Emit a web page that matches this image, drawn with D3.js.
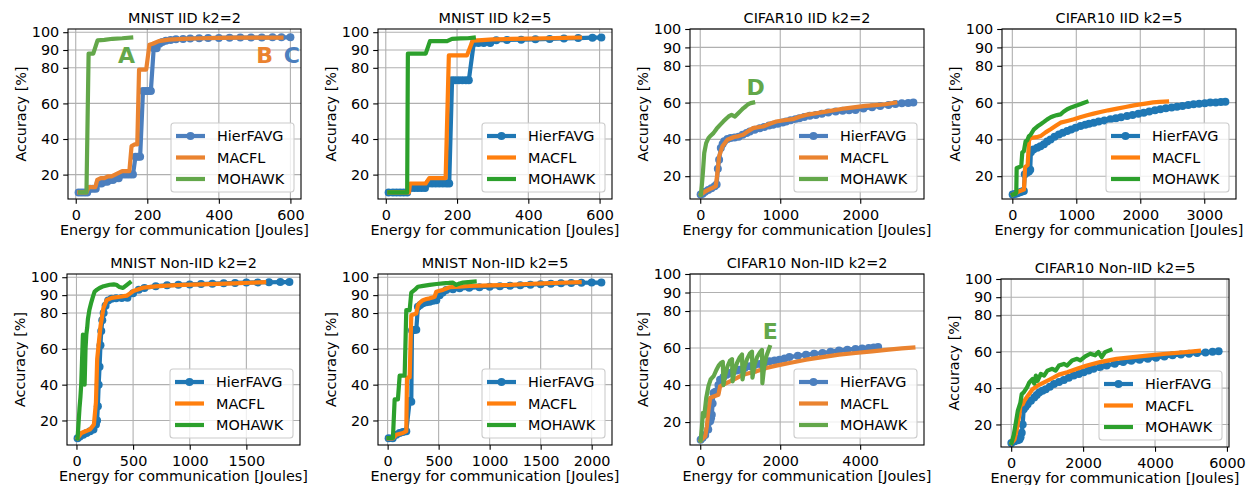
<!DOCTYPE html>
<html>
<head>
<meta charset="utf-8">
<script src="https://cdn.jsdelivr.net/npm/d3@7"></script>
<style>
  body { margin: 0; background: #fff; }
  text { font-family: "DejaVu Sans", sans-serif; fill: #000; }
</style>
</head>
<body>
<script>
// ---- data (energy [J], accuracy [%]) ----
const methods = ["HierFAVG", "MACFL", "MOHAWK"];
const yTicks = [20, 40, 60, 80, 90, 100];

// MNIST IID k2=2
const p1Hier = [[8,10],[16,10],[24,10],[32,10],[40,12],[48,12],[56,12],[64,15],[72,15],[80,16],[88,16],[96,17],[104,17],[112,18],[120,18],[128,20],[136,20],[144,20],[152,20],[160,20],[167,30],[174,30],[180,30],[188,67],[196,67],[203,67],[210,67],[218,91],[226,91],[234,93.5],[242,94.5],[252,95.2],[265,95.6],[280,96],[300,96.2],[320,96.4],[345,96.6],[370,96.7],[400,96.8],[430,96.9],[460,97],[490,97],[520,97],[550,97.1],[575,97.1],[600,97.1]];
const p1Macfl = [[10,10],[22,10],[30,10],[36,13],[46,13],[55,13],[60,17],[70,18],[80,18],[90,19],[100,19],[110,20],[120,21],[130,22],[140,22],[150,22],[156,36],[165,37],[172,37],[177,79],[188,79],[197,79],[206,93],[215,93.5],[232,95],[260,95.8],[300,96.3],[350,96.6],[400,96.8],[450,96.9],[500,97],[545,97],[575,97]];
const p1Mohawk = [[12,10],[22,10],[30,10],[36,88],[42,88],[49,88],[61,95.4],[80,95.7],[103,96.3],[130,96.6],[155,97]];

// MNIST IID k2=5
const p2Hier = [[8,10],[20,10],[30,10],[40,10],[50,10],[60,10],[70,12.5],[80,12.5],[90,12.5],[100,12.5],[110,12.5],[120,15],[130,15],[140,15],[150,15],[160,15],[170,15],[178,15],[186,73],[195,73],[205,73],[215,73],[225,73],[233,73],[247,94],[260,94],[275,94],[293,94],[310,95.5],[340,95.6],[380,95.8],[420,96],[460,96.2],[500,96.5],[540,96.7],[580,96.9],[605,97]];
const p2Macfl = [[10,10],[30,10],[50,10],[65,10],[68,15],[90,15],[112,15],[122,18],[140,18],[168,18],[177,87],[200,87],[228,87],[244,95.3],[270,95.6],[300,96],[350,96.2],[400,96.4],[450,96.6],[500,96.8],[545,97]];
const p2Mohawk = [[10,10],[30,10],[50,10],[60,10],[62,88],[80,88],[100,88],[112,88],[124,95],[140,95],[160,95],[172,95],[186,96.3],[210,96.5],[230,96.6],[247,97]];

// CIFAR10 IID k2=2
const p3Hier = [[5,10],[30,10.5],[60,11.5],[100,12.5],[140,13.5],[180,14.5],[205,15.5],[220,24],[236,29],[257,35.3],[280,37.5],[300,39],[340,40.2],[380,40.7],[430,41],[480,41.5],[530,42.5],[580,43.5],[620,44.3],[680,45.3],[744,46.1],[800,46.8],[860,47.5],[910,47.9],[970,48.5],[1030,49.2],[1074,49.7],[1130,50.4],[1190,51],[1239,51.5],[1300,52.2],[1370,52.8],[1445,53.3],[1520,54],[1600,54.6],[1693,55.1],[1780,55.5],[1860,55.8],[1941,56],[2040,56.8],[2148,57.5],[2250,58.2],[2354,58.7],[2440,59.2],[2520,59.6],[2600,59.8],[2664,60]];
const p3Macfl = [[8,10],[40,11],[70,11.9],[110,12.8],[153,13.7],[194,14.6],[215,21.8],[236,30.8],[277,36.2],[339,39.8],[421,41.3],[480,41.8],[537,42.5],[600,44.5],[661,46.1],[720,46.6],[785,47],[870,48.5],[950,49.7],[1050,50.4],[1156,51],[1240,52.3],[1321,53.3],[1450,54.2],[1569,55.1],[1690,56],[1817,56.9],[1940,57.5],[2065,58.2],[2190,58.6],[2313,59.1],[2437,60]];
const p3Mohawk = [[8,10],[20,15],[33,21.8],[50,32.6],[74,38],[103,40.7],[130,42],[165,43.4],[205,45.8],[248,47.9],[290,49.8],[330,51.5],[360,52.6],[392,53.3],[434,52.4],[475,54.2],[505,55.5],[537,56.9],[570,58],[599,59.1],[630,59.7],[661,60]];

// CIFAR10 IID k2=5
const p4Hier = [[5,10],[40,10.3],[80,10.7],[120,11.3],[150,11.7],[180,12],[195,21],[230,22],[260,22.5],[280,23.5],[290,33],[330,34.5],[390,35.5],[440,36.3],[494,37.3],[545,38.8],[598,40],[660,41.5],[728,42.7],[790,43.6],[858,44.5],[920,45.4],[990,46.3],[1066,47.3],[1140,48],[1200,48.5],[1274,49.1],[1350,49.7],[1440,50.3],[1534,50.9],[1620,51.5],[1700,52.1],[1794,52.7],[1880,53.3],[1970,53.9],[2054,54.5],[2140,55.1],[2230,55.8],[2314,56.4],[2400,56.9],[2490,57.3],[2574,57.8],[2660,58.2],[2750,58.7],[2834,59.1],[2920,59.4],[3010,59.7],[3094,60],[3180,60.1],[3260,60.3],[3330,60.4]];
const p4Macfl = [[10,10],[60,11],[120,12],[182,12.7],[200,25],[240,26],[262,40],[300,40.8],[380,41.2],[442,41.8],[520,43.8],[598,45.5],[680,47.4],[754,49.1],[860,50],[962,50.9],[1060,52],[1170,53.1],[1270,54],[1378,54.9],[1500,55.8],[1638,56.7],[1770,57.6],[1898,58.5],[2000,59],[2106,59.6],[2200,60.1],[2300,60.4],[2418,60.6]];
const p4Mohawk = [[10,10],[50,10.5],[62,11],[68,24.5],[100,24.8],[140,25.5],[156,33],[180,33.5],[208,39],[234,39.5],[260,41.8],[286,42.5],[338,45.5],[390,47],[442,48.2],[494,49.5],[546,50.9],[600,52],[650,52.7],[700,53.2],[754,53.6],[800,55],[858,56.4],[930,57.5],[1014,58.5],[1090,59.5],[1160,60.4]];

// MNIST Non-IID k2=2
const p5Hier = [[10,10],[30,11],[60,12],[90,13],[120,14],[150,15],[172,17.7],[182,20],[189,28],[196,40],[204,50],[212,62],[219,70],[228,76],[240,80],[257,84],[280,87],[310,88],[350,88.2],[400,88.4],[450,88.6],[500,91],[550,93],[600,94],[700,95],[800,95.5],[900,95.8],[1000,96],[1100,96.2],[1200,96.4],[1300,96.6],[1400,96.8],[1500,97],[1600,97.1],[1700,97.2],[1800,97.3],[1880,97.3]];
const p5Macfl = [[10,10.2],[44,13],[80,14],[118,14.9],[154,17.7],[172,30],[183,54.4],[198,63.8],[213,73],[237,82.5],[266,87.2],[311,88.5],[385,89.1],[444,89.7],[503,92.3],[592,94.2],[700,94.9],[799,95.3],[950,95.7],[1095,96],[1250,96.3],[1391,96.6],[1530,96.9],[1657,97.2]];
const p5Mohawk = [[10,10],[27,27],[35,33],[42,40],[50,55],[57,68],[64,50],[72,40],[80,60],[87,68],[95,72],[101,76.6],[115,82],[131,86],[145,89],[160,92],[180,93],[204,94],[240,95],[293,95.8],[330,96],[352,95.8],[380,94.5],[411,94],[440,95.5],[470,97]];

// MNIST Non-IID k2=5
const p6Hier = [[10,10],[50,10],[85,12],[118,13],[150,13.5],[183,14],[216,30.9],[232,30.5],[239,70.3],[260,70.5],[281,70.7],[297,83.5],[320,84.5],[346,85.4],[380,86],[412,86.3],[445,86.8],[477,87.2],[510,90],[540,91.5],[575,92.9],[640,93.3],[706,93.8],[800,94.1],[900,94.4],[1000,94.7],[1100,95],[1200,95.3],[1300,95.5],[1400,95.8],[1500,96.1],[1600,96.4],[1700,96.6],[1800,96.8],[1900,96.9],[2000,97],[2095,97]];
const p6Macfl = [[10,10],[52,10],[85,12],[150,13],[183,14],[190,44],[216,44],[232,78.8],[260,79.3],[281,79.7],[297,84.4],[320,86],[346,87.2],[380,87.8],[412,88.2],[440,88.7],[461,89.1],[477,91.9],[510,92.4],[542,92.9],[575,93.7],[608,94.4],[700,94.8],[804,95.1],[1000,95.4],[1196,95.7],[1360,96.2],[1523,96.6],[1700,96.9],[1882,97.2]];
const p6Mohawk = [[10,10.2],[52,10.2],[69,31.8],[101,31.8],[118,45],[167,45],[183,81.6],[216,81.6],[232,91.4],[265,92.9],[297,94.7],[350,95.2],[412,95.7],[480,96.2],[542,96.6],[600,96.8],[641,97],[673,95.7],[705,96.5],[739,97],[790,97.3],[853,97.6]];

// CIFAR10 Non-IID k2=2
const p7Hier = [[10,10.5],[60,11.5],[124,13],[200,16],[248,20.4],[270,22],[289,24],[310,30],[331,35.7],[370,36.2],[413,36.6],[455,40],[496,42.9],[580,44.3],[661,45.6],[740,46.5],[826,47.4],[910,47.9],[992,48.3],[1110,49.2],[1240,50.1],[1360,50.8],[1488,51.4],[1610,52.1],[1736,52.8],[1860,53.3],[1983,53.7],[2110,54.4],[2231,55.1],[2440,55.8],[2645,56.4],[2850,56.9],[3058,57.3],[3260,58],[3471,58.7],[3680,59.1],[3884,59.5],[4050,59.8],[4215,60],[4340,60.3],[4450,60.5]];
const p7Macfl = [[10,10],[124,12.3],[165,17.7],[207,26.7],[248,33],[331,33.8],[455,34.8],[496,39.3],[579,40.2],[744,42],[909,43.8],[1074,45.6],[1240,46.5],[1405,47.4],[1653,49.2],[1901,50.5],[2231,51.9],[2645,53.7],[3058,55.1],[3471,56.4],[3884,57.3],[4298,58.2],[4711,59.1],[5041,59.8],[5331,60.3]];
const p7Mohawk = [[10,10],[40,17],[66,25],[99,23],[150,33],[207,39.5],[260,43],[300,44],[340,45],[400,48],[460,50.5],[520,52],[565,52.5],[579,40],[620,45],[680,50],[740,53],[795,54],[810,42],[860,48],[920,52],[990,55],[1045,56.5],[1058,43],[1110,50],[1170,54],[1240,57],[1295,58],[1306,44],[1360,51],[1420,55],[1490,57.5],[1545,59],[1554,41],[1600,50],[1660,56],[1736,60.5]];

// CIFAR10 Non-IID k2=5
const p8Hier = [[5,9.8],[92,10.7],[180,11.3],[229,11.7],[260,13],[293,15.4],[320,20],[348,28.3],[400,29.8],[458,31.1],[549,33],[641,34.8],[710,36.2],[778,37.6],[870,38.5],[961,39.4],[1075,40.8],[1190,42.2],[1330,43.3],[1465,44.4],[1600,45.7],[1740,46.9],[1880,47.8],[2015,48.7],[2150,49.7],[2289,50.6],[2470,51.5],[2656,52.4],[2880,53.4],[3114,54.3],[3340,55],[3571,55.6],[3800,56.2],[4029,56.7],[4260,57.4],[4487,58],[4720,58.5],[4945,58.9],[5170,59.3],[5403,59.6],[5600,60],[5769,60.2]];
const p8Macfl = [[10,9.8],[92,11.7],[165,18.1],[229,25.6],[256,30.2],[320,31.1],[366,33],[458,35.7],[595,39.4],[733,41.3],[916,43.1],[1099,45],[1328,47.4],[1557,48.7],[1832,50.6],[2106,52.4],[2473,54.3],[2930,56.1],[3388,57],[3846,58],[4304,58.9],[4853,59.8],[5220,60.5]];
const p8Mohawk = [[10,9.8],[73,14.4],[137,21.9],[183,27.4],[256,32],[293,36.7],[348,37.6],[440,40.4],[504,43.1],[595,45],[640,42.5],[687,46.9],[733,44],[824,47.8],[916,46.9],[1007,49.6],[1145,50.6],[1236,49.6],[1328,52.4],[1465,53.3],[1557,52.4],[1694,55.2],[1832,56.1],[1923,55.2],[2060,57.4],[2198,58.9],[2335,58],[2427,59.8],[2518,57],[2610,59.8],[2760,61]];

const tab = ["#1f77b4", "#ff7f0e", "#2ca02c"];
const muted = ["#4c7fbe", "#ea8330", "#63a74a"];
const yMnist = [6.3, 101.8], yCifar = [7.6, 100];

const panels = [
  {title: "MNIST IID k2=2", box: [68, 301, 29, 199], yDom: yMnist, xt: [0,200,400,600], s: [p1Hier,p1Macfl,p1Mohawk], c: muted,
   notes: [["A",142,87.4,2],["B",528,87.4,1],["C",604,87.4,0]]},
  {title: "MNIST IID k2=5", box: [378, 612, 29, 199], yDom: yMnist, xt: [0,200,400,600], s: [p2Hier,p2Macfl,p2Mohawk], c: tab, notes: []},
  {title: "CIFAR10 IID k2=2", box: [690, 924, 29, 199], yDom: yCifar, xt: [0,1000,2000], s: [p3Hier,p3Macfl,p3Mohawk], c: muted,
   notes: [["D",693,68.5,2]]},
  {title: "CIFAR10 IID k2=5", box: [1002, 1236, 29, 199], yDom: yCifar, xt: [0,1000,2000,3000], s: [p4Hier,p4Macfl,p4Mohawk], c: tab, notes: []},
  {title: "MNIST Non-IID k2=2", box: [67, 300, 274, 445], yDom: yMnist, xt: [0,500,1000,1500], s: [p5Hier,p5Macfl,p5Mohawk], c: tab, notes: []},
  {title: "MNIST Non-IID k2=5", box: [378, 612, 274, 445], yDom: yMnist, xt: [0,500,1000,1500,2000], s: [p6Hier,p6Macfl,p6Mohawk], c: tab, notes: []},
  {title: "CIFAR10 Non-IID k2=2", box: [690, 924, 274, 445], yDom: yCifar, xt: [0,2000,4000], s: [p7Hier,p7Macfl,p7Mohawk], c: muted,
   notes: [["E",1750,69.2,2]]},
  {title: "CIFAR10 Non-IID k2=5", box: [1001, 1229, 279, 447], yDom: yCifar, xt: [0,2000,4000,6000], s: [p8Hier,p8Macfl,p8Mohawk], c: tab, notes: []}
];

const fs = 14.4;
const svg = d3.select("body").append("svg").attr("width", 1247).attr("height", 485);

panels.forEach((p, i) => {
  const [l, r, t, b] = p.box;
  const all = p.s.flat();
  const [xmin, xmax] = d3.extent(all, d => d[0]);
  const pad = (xmax - xmin) * 0.05;
  const x = d3.scaleLinear().domain([xmin - pad, xmax + pad]).range([l, r]);
  const y = d3.scaleLinear().domain(p.yDom).range([b, t]);
  const g = svg.append("g");

  g.append("clipPath").attr("id", "clip" + i)
    .append("rect").attr("x", l).attr("y", t).attr("width", r - l).attr("height", b - t);

  // grid
  g.selectAll(".gx").data(p.xt).enter().append("line")
    .attr("x1", d => x(d)).attr("x2", d => x(d)).attr("y1", t).attr("y2", b)
    .attr("stroke", "#b0b0b0").attr("stroke-width", 1.1);
  g.selectAll(".gy").data(yTicks).enter().append("line")
    .attr("x1", l).attr("x2", r).attr("y1", d => y(d)).attr("y2", d => y(d))
    .attr("stroke", "#b0b0b0").attr("stroke-width", 1.1);

  const line = d3.line().x(d => x(d[0])).y(d => y(d[1]));
  const plot = g.append("g").attr("clip-path", "url(#clip" + i + ")");
  p.s.forEach((ser, k) => {
    plot.append("path").datum(ser).attr("d", line)
      .attr("fill", "none").attr("stroke", p.c[k]).attr("stroke-width", 4.2)
      .attr("stroke-linejoin", "round").attr("stroke-linecap", "square");
    if (k === 0) {
      plot.selectAll(".m").data(ser).enter().append("circle")
        .attr("cx", d => x(d[0])).attr("cy", d => y(d[1])).attr("r", 4)
        .attr("fill", p.c[0]);
    }
  });

  // axes
  const ax = g.append("g").attr("transform", `translate(0,${b})`)
    .call(d3.axisBottom(x).tickValues(p.xt).tickFormat(d3.format("d")).tickSize(4.8).tickSizeOuter(0).tickPadding(5.5));
  const ay = g.append("g").attr("transform", `translate(${l},0)`)
    .call(d3.axisLeft(y).tickValues(yTicks).tickSize(4.8).tickSizeOuter(0).tickPadding(4));
  [ax, ay].forEach(a => {
    a.select(".domain").remove();
    a.selectAll("line").attr("stroke", "#000").attr("stroke-width", 1.1);
    a.selectAll("text").attr("font-size", fs).style("font-family", "DejaVu Sans").attr("fill", "#000");
  });
  g.append("rect").attr("x", l).attr("y", t).attr("width", r - l).attr("height", b - t)
    .attr("fill", "none").attr("stroke", "#000").attr("stroke-width", 1.1);

  // labels
  g.append("text").attr("x", (l + r) / 2).attr("y", t - 6).attr("text-anchor", "middle")
    .attr("font-size", fs).text(p.title);
  g.append("text").attr("x", (l + r) / 2).attr("y", b + 35.5).attr("text-anchor", "middle")
    .attr("font-size", fs).text("Energy for communication [Joules]");
  g.append("text").attr("transform", `translate(${l - 42},${(t + b) / 2}) rotate(-90)`)
    .attr("text-anchor", "middle").attr("font-size", fs).text("Accuracy [%]");

  // annotations
  p.notes.forEach(n => {
    g.append("text").attr("x", x(n[1])).attr("y", y(n[2])).attr("dy", "0.36em")
      .attr("text-anchor", "middle").attr("font-size", 22).attr("font-weight", "bold")
      .style("fill", p.c[n[3]]).text(n[0]);
  });

  // legend
  const lw = 123, lh = 69, lx = r - 7 - lw, ly = b - 7 - lh;
  const lg = g.append("g");
  lg.append("rect").attr("x", lx).attr("y", ly).attr("width", lw).attr("height", lh)
    .attr("rx", 3).attr("fill", "#fff").attr("fill-opacity", 0.8)
    .attr("stroke", "#cccccc").attr("stroke-width", 1.1);
  const rows = [13, 34.5, 56];
  methods.forEach((m, k) => {
    const yy = ly + rows[k];
    lg.append("line").attr("x1", lx + 5).attr("x2", lx + 34).attr("y1", yy).attr("y2", yy)
      .attr("stroke", p.c[k]).attr("stroke-width", 4.2);
    if (k === 0) lg.append("circle").attr("cx", lx + 19.5).attr("cy", yy).attr("r", 4).attr("fill", p.c[0]);
    lg.append("text").attr("x", lx + 46).attr("y", yy).attr("dy", "0.36em")
      .attr("font-size", fs).text(m);
  });
});
</script>
</body>
</html>
